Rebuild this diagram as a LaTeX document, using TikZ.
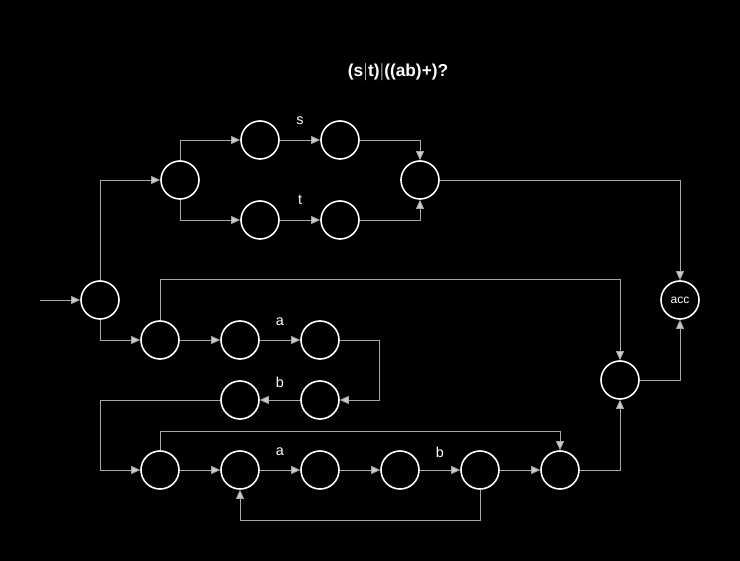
\documentclass[tikz,border=0pt]{standalone}
\usepackage{fontspec}
\setmainfont{Liberation Sans}
\usetikzlibrary{arrows.meta}
\begin{document}
\begin{tikzpicture}[x=1pt,y=-1pt,
  state/.style={circle,draw=white,line width=1.6pt,minimum size=38pt,inner sep=0pt,text=white,font=\large},
  edge/.style={draw=gray!70,line width=0.8pt,-{Triangle[length=9pt,width=8pt,fill=gray!40]}},
  lbl/.style={text=white,font=\Large}]
  \fill[black] (0,0) rectangle (740,561);
  \useasboundingbox (0,0) rectangle (740,561);
  \node[text=white,font=\bfseries\LARGE] (title) at (398,72) {(s$\big|$t)$\big|$((ab)+)?};
  % states
  \node[state] (q0) at (100,300) {};
  \node[state] (sp) at (180,180) {};
  \node[state] (s1) at (260,140) {};
  \node[state] (s2) at (340,140) {};
  \node[state] (t1) at (260,220) {};
  \node[state] (t2) at (340,220) {};
  \node[state] (j1) at (420,180) {};
  \node[state] (acc) at (680,300) {acc};
  \node[state] (n1) at (160,340) {};
  \node[state] (n2) at (240,340) {};
  \node[state] (n3) at (320,340) {};
  \node[state] (b1) at (320,400) {};
  \node[state] (b0) at (240,400) {};
  \node[state] (m1) at (160,470) {};
  \node[state] (m2) at (240,470) {};
  \node[state] (m3) at (320,470) {};
  \node[state] (m4) at (400,470) {};
  \node[state] (m5) at (480,470) {};
  \node[state] (m6) at (560,470) {};
  \node[state] (j2) at (620,380) {};
  \coordinate (in) at (40,300);
  % labels
  \node[lbl] (ls) at (300,121) {s};
  \node[lbl] (lt) at (300,200) {t};
  \node[lbl] (la1) at (280,322) {a};
  \node[lbl] (lb1) at (280,382) {b};
  \node[lbl] (la2) at (280,452) {a};
  \node[lbl] (lb2) at (440,452) {b};
  % connectors
  \draw[edge] (in) -- (q0);
  \draw[edge] (q0.north) |- (sp);
  \draw[edge] (q0.south) |- (n1);
  \draw[edge] (sp.north) |- (s1);
  \draw[edge] (sp.south) |- (t1);
  \draw[edge] (s1) -- (s2);
  \draw[edge] (t1) -- (t2);
  \draw[edge] (s2) -| (j1.north);
  \draw[edge] (t2) -| (j1.south);
  \draw[edge] (j1) -| (acc.north);
  \draw[edge] (n1) -- (n2);
  \draw[edge] (n2) -- (n3);
  \draw[edge] (n3.east) -- ++(40,0) |- (b1.east);
  \draw[edge] (b1) -- (b0);
  \draw[edge] (b0.west) -- (100,400) |- (m1.west);
  \draw[edge] (m1) -- (m2);
  \draw[edge] (m2) -- (m3);
  \draw[edge] (m3) -- (m4);
  \draw[edge] (m4) -- (m5);
  \draw[edge] (m5) -- (m6);
  \draw[edge] (m5.south) -- ++(0,31) -| (m2.south);
  \draw[edge] (m1.north) -- ++(0,-19) -| (m6.north);
  \draw[edge] (n1.north) -- ++(0,-41) -| (j2.north);
  \draw[edge] (m6) -| (j2.south);
  \draw[edge] (j2) -| (acc.south);
\end{tikzpicture}
\end{document}
